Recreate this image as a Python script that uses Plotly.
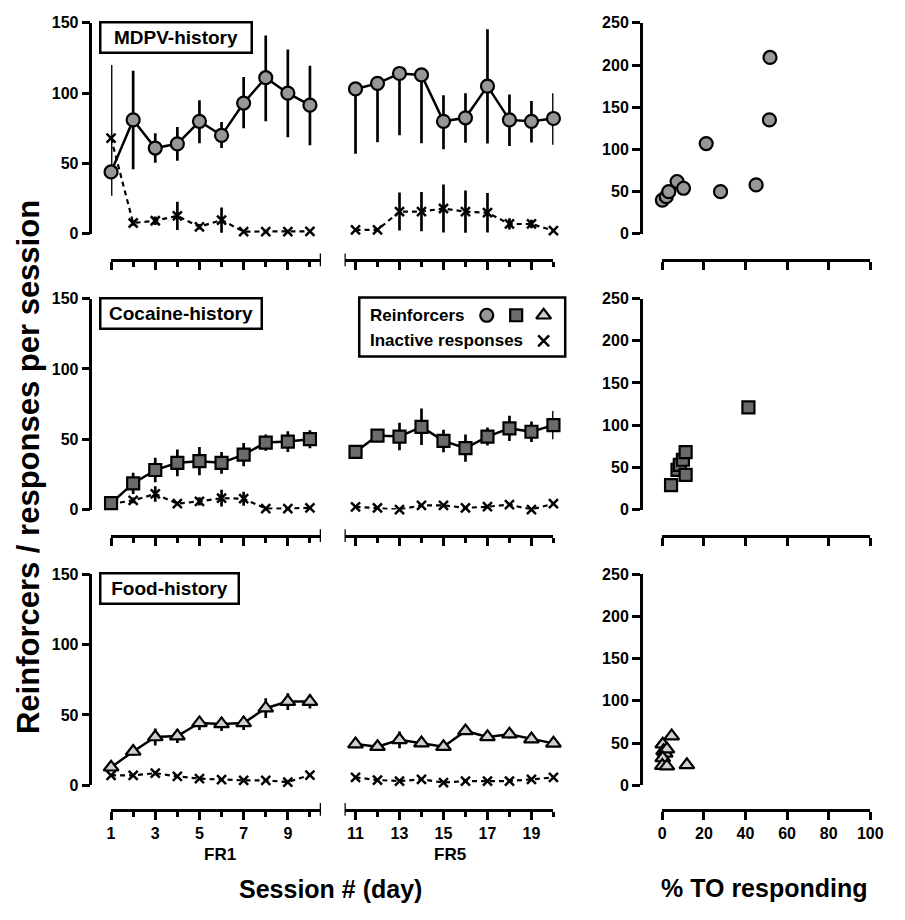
import plotly.graph_objects as go

# sessions (days)
fr1_days = [1, 2, 3, 4, 5, 6, 7, 8, 9, 10]
fr5_days = [11, 12, 13, 14, 15, 16, 17, 18, 19, 20]

# MDPV-history group
mdpv_rf = [44, 81, 61, 64, 80, 70, 93, 111, 100, 91.5, 103, 107, 114, 113, 80, 82.5, 105, 81, 80, 82]
mdpv_rf_hi = [76, 35, 10.5, 12, 15, 9.5, 18.5, 30, 31, 28, 3, 3, 3, 3, 18.5, 17.5, 40.5, 18, 14.5, 18]
mdpv_rf_lo = [17, 35, 10.5, 12, 15.6, 9, 18, 31, 31.4, 28.6, 46, 41.8, 43.9, 48.6, 19.8, 17.7, 40.7, 18.6, 15.1, 18.6]
mdpv_in = [68, 7.7, 9.3, 12.8, 5, 9.8, 1.6, 1.6, 1.6, 1.8, 2.8, 2.8, 15.8, 15.8, 18, 15.8, 15, 7, 7, 2.3]
mdpv_in_err = [0, 2, 3, 10, 2, 9, 0, 0, 0, 0, 0, 0, 13.5, 14, 17, 15, 14, 4, 3, 0]

# Cocaine-history group
coc_rf = [4.5, 18.6, 28.1, 33.2, 34.4, 33.2, 39, 47.6, 48.3, 50, 41, 52.6, 51.9, 58.8, 48.8, 43.7, 51.9, 57.7, 55.3, 60]
coc_rf_err = [1, 7.5, 8.7, 9.5, 10, 7.8, 8.3, 5.8, 7.3, 6.4, 2, 3, 9.8, 13, 8, 9.7, 6.4, 9, 7.3, 10]
coc_in = [4, 6.5, 11.1, 4.2, 5.8, 8.1, 7.7, 0.7, 0.7, 1.2, 1.9, 1.2, 0, 3, 3, 1.2, 2, 3.5, 0, 4.2]
coc_in_err = [1, 2, 5.5, 1, 3, 6, 5, 0, 0, 0, 0, 0, 0, 0, 0, 0, 0, 0, 0, 0]

# Food-history group
food_rf = [12.8, 24, 34.3, 35, 44.3, 43.6, 44.3, 54.8, 59.5, 59.5, 29.3, 27.4, 32.3, 30, 27.4, 38.6, 34.4, 36.3, 32.8, 29.8]
food_rf_err = [2, 3, 6, 5, 5, 5, 5, 7, 6, 5, 3, 3, 6, 3, 2, 2, 2, 3, 2, 2]
food_in = [7, 7, 8.6, 6.3, 4.7, 4, 3.5, 3.5, 2.3, 7.2, 5.6, 3.7, 3, 4.2, 1.9, 3, 3, 3, 4.2, 5.6]
food_in_err = [0.5, 1, 1.5, 1, 0.5, 0.5, 0, 0, 0, 1, 0, 1, 1, 1, 1, 0, 0, 0, 0, 0]

# % TO responding vs reinforcers (individual subjects)
mdpv_to = [0, 1.9, 3.1, 7.1, 10.2, 21.1, 28, 45.1, 51.5, 51.8]
mdpv_rate = [40, 44, 50, 62, 54, 107, 50, 58, 135, 209]
coc_to = [4.2, 7.3, 8.4, 9.9, 11.2, 11.2, 41.4]
coc_rate = [29, 47, 53, 59, 41, 68, 121]
food_to = [0.2, 0.6, 1.4, 2.2, 0.2, 0, 2.2, 4.5, 11.8]
food_rate = [48.6, 40.8, 37.7, 42.8, 32.3, 23.3, 22.6, 58.3, 24.1]

# the page body keeps its default 8px margin, so the figure is 16px smaller than the window
PAGE_W, PAGE_H, BODY = 905, 920, 8
W, H = PAGE_W - 2 * BODY, PAGE_H - 2 * BODY
FONT = 'Liberation Sans, Arial, sans-serif'


def px_x(x):
    # window pixel -> paper fraction
    return (x - BODY) / W


def px_y(y):
    return 1 - (y - BODY) / H


def xname(n):
    return 'xaxis' if n == 1 else 'xaxis%d' % n


def yname(n):
    return 'yaxis' if n == 1 else 'yaxis%d' % n


def xr(n):
    return 'x' if n == 1 else 'x%d' % n


def yr(n):
    return 'y' if n == 1 else 'y%d' % n


groups = [
    dict(label='MDPV-history', box_w=141, rf=mdpv_rf, hi=mdpv_rf_hi, lo=mdpv_rf_lo,
         inn=mdpv_in, in_err=mdpv_in_err, to=mdpv_to, rate=mdpv_rate,
         symbol='circle', fill='#979797', size=13),
    dict(label='Cocaine-history', box_w=151, rf=coc_rf, hi=coc_rf_err, lo=coc_rf_err,
         inn=coc_in, in_err=coc_in_err, to=coc_to, rate=coc_rate,
         symbol='square', fill='#6b6b6b', size=12),
    dict(label='Food-history', box_w=128, rf=food_rf, hi=food_rf_err, lo=food_rf_err,
         inn=food_in, in_err=food_in_err, to=food_to, rate=food_rate,
         symbol='triangle-up', fill='#cfcfcf', size=13),
]

# pixel rows: (top of y axis, bottom of y axis, position of x axis line)
rows = [(15, 230, 257), (296, 511, 538), (577, 792, 817)]

fig = go.Figure()
layout = {}
shapes = []
annotations = []

tickfont = dict(family=FONT, size=16, color='black', weight='bold')
axis_common = dict(showline=True, linewidth=2.5, linecolor='black', ticks='outside',
                   tickwidth=2.5, tickcolor='black', showgrid=False, zeroline=False,
                   tickfont=tickfont, fixedrange=True)

for r, g in enumerate(groups):
    top, bot, ax_y = rows[r]
    n1, n2, n3 = 3 * r + 1, 3 * r + 2, 3 * r + 3
    ya, ys = 2 * r + 1, 2 * r + 2
    last = r == 2

    layout[xname(n1)] = dict(axis_common, domain=[px_x(109), px_x(323)], range=[1, 10.5],
                             anchor='free', position=px_y(ax_y), tickmode='array',
                             tickvals=[1, 3, 5, 7, 9], ticklen=8, showticklabels=last,
                             minor=dict(tickmode='array', tickvals=[2, 4, 6, 8, 10], ticks='outside',
                                        ticklen=5, tickwidth=2.5, tickcolor='black'))
    layout[xname(n2)] = dict(axis_common, domain=[px_x(347), px_x(560)], range=[10.5, 20],
                             anchor='free', position=px_y(ax_y), tickmode='array',
                             tickvals=[11, 13, 15, 17, 19], ticklen=8, showticklabels=last,
                             minor=dict(tickmode='array', tickvals=[12, 14, 16, 18, 20], ticks='outside',
                                        ticklen=5, tickwidth=2.5, tickcolor='black'))
    layout[xname(n3)] = dict(axis_common, domain=[px_x(671), px_x(883)], range=[0, 100],
                             anchor='free', position=px_y(ax_y), tickmode='array',
                             tickvals=[0, 20, 40, 60, 80, 100], ticklen=8, showticklabels=last)
    layout[yname(ya)] = dict(axis_common, domain=[px_y(bot), px_y(top)], range=[0, 150],
                             anchor='free', position=px_x(88), tickmode='array',
                             tickvals=[0, 50, 100, 150], ticklen=8)
    layout[yname(ys)] = dict(axis_common, domain=[px_y(bot), px_y(top)], range=[0, 250],
                             anchor='free', position=px_x(649), tickmode='array',
                             tickvals=[0, 50, 100, 150, 200, 250], ticklen=8)

    # broken-axis end caps
    for n in (n1, n2):
        shapes.append(dict(type='line', xref=xr(n), yref='paper', x0=10.5, x1=10.5,
                           y0=px_y(ax_y + 6), y1=px_y(ax_y - 7),
                           line=dict(color='black', width=2.5)))

    for n, days, sl in ((n1, fr1_days, slice(0, 10)), (n2, fr5_days, slice(10, 20))):
        fig.add_trace(go.Scatter(
            x=days, y=g['inn'][sl], xaxis=xr(n), yaxis=yr(ya), mode='lines+markers',
            line=dict(color='black', width=2.2, dash='5px,4px'),
            marker=dict(symbol='x-thin', size=9, line=dict(color='black', width=2.5)),
            error_y=dict(type='data', array=g['in_err'][sl], thickness=2.7, width=0, color='black'),
            cliponaxis=False, showlegend=False))
        fig.add_trace(go.Scatter(
            x=days, y=g['rf'][sl], xaxis=xr(n), yaxis=yr(ya), mode='lines+markers',
            line=dict(color='black', width=2.5),
            marker=dict(symbol=g['symbol'], size=g['size'], color=g['fill'],
                        line=dict(color='black', width=2.2)),
            error_y=dict(type='data', symmetric=False, array=g['hi'][sl], arrayminus=g['lo'][sl],
                         thickness=2.7, width=0, color='black'),
            cliponaxis=False, showlegend=False))

    fig.add_trace(go.Scatter(
        x=g['to'], y=g['rate'], xaxis=xr(n3), yaxis=yr(ys), mode='markers',
        marker=dict(symbol=g['symbol'], size=g['size'], color=g['fill'],
                    line=dict(color='black', width=2.2)),
        cliponaxis=False, showlegend=False))

    annotations.append(dict(x=px_x(97), y=px_y(top - 2), xref='paper', yref='paper',
                            xanchor='left', yanchor='top', text='<b>%s</b>' % g['label'],
                            showarrow=False, font=dict(family=FONT, size=19, color='black'),
                            bgcolor='white', bordercolor='black', borderwidth=2.5, borderpad=4,
                            width=g['box_w'], height=20))

# legend box inside the cocaine panel (overlay axis in window pixels)
layout['xaxis10'] = dict(domain=[0, 1], range=[BODY, BODY + W], visible=False, fixedrange=True)
layout['yaxis7'] = dict(domain=[0, 1], range=[BODY + H, BODY], visible=False, fixedrange=True)
shapes.append(dict(type='rect', xref='paper', yref='paper', x0=px_x(362), x1=px_x(572),
                   y0=px_y(295), y1=px_y(355), line=dict(color='black', width=2.5),
                   fillcolor='white', layer='below'))
for sym, fill, sz, lx, ly in (('circle', '#979797', 13, 492, 313), ('square', '#6b6b6b', 12, 522, 313),
                              ('triangle-up', '#cfcfcf', 13, 550, 313)):
    fig.add_trace(go.Scatter(x=[lx], y=[ly], xaxis='x10', yaxis='y7', mode='markers',
                             marker=dict(symbol=sym, size=sz, color=fill, line=dict(color='black', width=2.2)),
                             showlegend=False, hoverinfo='skip'))
fig.add_trace(go.Scatter(x=[550], y=[339], xaxis='x10', yaxis='y7', mode='markers',
                         marker=dict(symbol='x-thin', size=11, line=dict(color='black', width=2.5)),
                         showlegend=False, hoverinfo='skip'))
for txt, ly in (('Reinforcers', 313), ('Inactive responses', 339)):
    annotations.append(dict(x=px_x(371), y=px_y(ly), xref='paper', yref='paper', xanchor='left',
                            yanchor='middle', text='<b>%s</b>' % txt, showarrow=False,
                            font=dict(family=FONT, size=17, color='black')))

# axis titles
for txt, x, y, size, angle in (('FR1', 220, 863, 17, 0), ('FR5', 455, 863, 17, 0),
                               ('Session # (day)', 333, 898, 25, 0),
                               ('% TO responding', 775, 897, 25, 0),
                               ('Reinforcers / responses per session', 25, 468, 31, -90)):
    annotations.append(dict(x=px_x(x), y=px_y(y), xref='paper', yref='paper', xanchor='center',
                            yanchor='middle', text='<b>%s</b>' % txt, showarrow=False, textangle=angle,
                            font=dict(family=FONT, size=size, color='black')))

fig.update_layout(width=W, height=H, margin=dict(l=0, r=0, t=0, b=0),
                  plot_bgcolor='rgba(0,0,0,0)', paper_bgcolor='white',
                  shapes=shapes, annotations=annotations, **layout)

fig.write_html("out.html", config={'displayModeBar': False})
